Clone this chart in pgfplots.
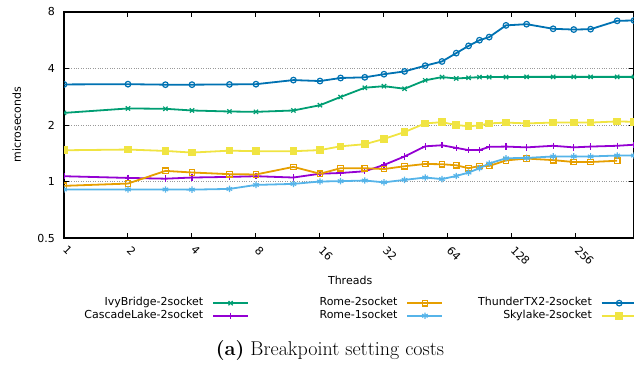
\documentclass[border=0pt]{standalone}
\usepackage{fontspec}
\setsansfont{DejaVu Sans}
\usepackage{pgfplots}
\pgfplotsset{compat=1.18}
\definecolor{cgreen}{HTML}{009E73}
\definecolor{cpurple}{HTML}{9400D3}
\definecolor{corange}{HTML}{E69F00}
\definecolor{cltblue}{HTML}{56B4E9}
\definecolor{cblue}{HTML}{0072B2}
\definecolor{cyellow}{HTML}{F0E442}
\pgfplotsset{
  base/.style={line width=1.8pt, mark options={solid, line width=1.2pt}},
  ivy/.style={base, color=cgreen, mark=x, mark size=3pt},
  casc/.style={base, color=cpurple, mark=+, mark size=3.2pt},
  romeii/.style={base, color=corange, mark=square, mark size=2.8pt},
  romei/.style={base, color=cltblue, mark=asterisk, mark size=3.2pt},
  thun/.style={base, color=cblue, mark=o, mark size=2.8pt},
  sky/.style={base, color=cyellow, mark=square*, mark size=3.2pt},
}
\begin{document}
\begin{tikzpicture}[font=\sffamily\fontsize{11}{13}\selectfont]
\begin{axis}[
  scale only axis, width=570pt, height=226pt,
  xmode=log, ymode=log, log basis x=2, log basis y=2,
  xmin=1, xmax=480, ymin=0.5, ymax=8,
  xtick={1,2,4,8,16,32,64,128,256}, xticklabels={1,2,4,8,16,32,64,128,256},
  ytick={0.5,1,2,4,8}, yticklabels={0.5,1,2,4,8},
  minor xtick={}, minor ytick={},
  ymajorgrids, grid style={dotted, line width=0.8pt, black!40},
  axis line style={line width=1.1pt},
  major tick length=5pt, tick style={line width=1pt, black},
  xticklabel style={xshift=4pt, yshift=-7pt, rotate=-45, anchor=north west, inner sep=0pt},
  yticklabel style={anchor=east, inner sep=0pt, xshift=-9pt},
  xlabel={Threads}, xlabel style={at={(axis description cs:0.502,-0.186)}, anchor=center},
  ylabel={microseconds}, ylabel style={at={(axis description cs:-0.083,0.502)}, anchor=center},
  clip marker paths=true,
  legend columns=3, legend cell align=right, legend plot pos=right,
  legend image code/.code={\draw[mark repeat=2,mark phase=2] plot coordinates {(0pt,0pt)(17.5pt,0pt)(35pt,0pt)};},
  legend style={draw=none, fill=none, inner sep=0pt, at={(axis description cs:0.0158,-0.264)}, anchor=north west,
    row sep=2pt, nodes={inner sep=0pt, text height=8pt, text depth=2.6pt},
    /tikz/every odd column/.append style={column sep=9pt},
    /tikz/every even column/.append style={column sep=18.5pt}},
]
% IvyBridge-2socket
\addplot[ivy, forget plot] coordinates {
(1,2.32) (2,2.45) (3,2.44) (4,2.39) (6,2.36) (8,2.35) (12,2.39) (16,2.55) (20,2.82) (26,3.16) (32,3.22) (40,3.12) (50,3.46) (60,3.60) (70,3.54) (80,3.57) (90,3.60) (100,3.60) (120,3.60) (150,3.61) (200,3.61) (250,3.61) (300,3.61) (400,3.61) (480,3.61)};
% CascadeLake-2socket
\addplot[casc, forget plot] coordinates {
(1,1.067) (2,1.045) (3,1.035) (4,1.05) (6,1.058) (8,1.067) (12,1.05) (16,1.10) (20,1.11) (26,1.134) (32,1.225) (40,1.36) (50,1.54) (60,1.56) (70,1.51) (80,1.47) (90,1.47) (100,1.53) (120,1.535) (150,1.52) (200,1.55) (250,1.52) (300,1.535) (400,1.55) (480,1.57)};
% Rome-2socket
\addplot[romeii, forget plot] coordinates {
(1,0.948) (2,0.975) (3,1.139) (4,1.117) (6,1.094) (8,1.09) (12,1.196) (16,1.10) (20,1.177) (26,1.177) (32,1.165) (40,1.206) (50,1.24) (60,1.236) (70,1.22) (80,1.177) (90,1.21) (100,1.21) (120,1.295) (150,1.325) (200,1.30) (250,1.27) (300,1.27) (400,1.29)};
% Rome-1socket
\addplot[romei, forget plot] coordinates {
(1,0.907) (2,0.907) (3,0.907) (4,0.905) (6,0.913) (8,0.959) (12,0.971) (16,1.0) (20,1.004) (26,1.012) (32,0.99) (40,1.02) (50,1.05) (60,1.03) (70,1.07) (80,1.116) (90,1.177) (100,1.247) (120,1.33) (150,1.335) (200,1.36) (250,1.36) (300,1.36) (400,1.375) (480,1.375)};
% ThunderTX2-2socket
\addplot[thun, forget plot] coordinates {
(1,3.29) (2,3.30) (3,3.28) (4,3.28) (6,3.29) (8,3.30) (12,3.47) (16,3.43) (20,3.56) (26,3.59) (32,3.73) (40,3.86) (50,4.14) (60,4.36) (70,4.83) (80,5.28) (90,5.66) (100,5.88) (120,6.79) (150,6.89) (200,6.51) (250,6.45) (300,6.48) (400,7.18) (480,7.21)};
% Skylake-2socket
\addplot[sky, forget plot] coordinates {
(1,1.467) (2,1.48) (3,1.455) (4,1.426) (6,1.46) (8,1.45) (12,1.45) (16,1.47) (20,1.54) (26,1.58) (32,1.685) (40,1.835) (50,2.04) (60,2.07) (70,2.0) (80,1.97) (90,1.99) (100,2.04) (120,2.06) (150,2.04) (200,2.06) (250,2.06) (300,2.06) (400,2.09) (480,2.08)};
\addlegendimage{ivy}\addlegendentry{\makebox[130pt][r]{IvyBridge-2socket}}
\addlegendimage{romeii}\addlegendentry{\makebox[130pt][r]{Rome-2socket}}
\addlegendimage{thun}\addlegendentry{\makebox[130pt][r]{ThunderTX2-2socket}}
\addlegendimage{casc}\addlegendentry{\makebox[130pt][r]{CascadeLake-2socket}}
\addlegendimage{romei}\addlegendentry{\makebox[130pt][r]{Rome-1socket}}
\addlegendimage{sky}\addlegendentry{\makebox[130pt][r]{Skylake-2socket}}
\end{axis}
\node[font=\rmfamily\fontsize{20}{23}\selectfont] at (266pt,-113pt) {\textbf{(a)} Breakpoint setting costs};
\pgfresetboundingbox
\path[use as bounding box] (-64pt,-126pt) rectangle (570pt,238pt);
\end{tikzpicture}
\end{document}
